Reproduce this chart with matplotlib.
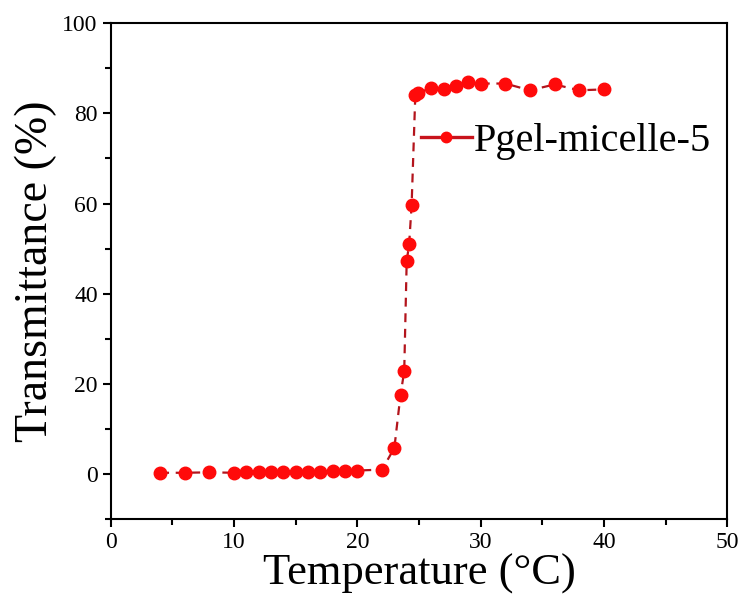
import numpy as np
import matplotlib
matplotlib.use("Agg")
import matplotlib.pyplot as plt
from matplotlib.ticker import MultipleLocator

temperature = [4, 6, 8, 10, 11, 12, 13, 14, 15, 16, 17, 18, 19, 20, 22, 23,
               23.5, 23.8, 24, 24.2, 24.4, 24.7, 24.9, 26, 27, 28, 29, 30,
               32, 34, 36, 38, 40]
transmittance = [0.3, 0.3, 0.4, 0.3, 0.4, 0.4, 0.4, 0.4, 0.4, 0.5, 0.5, 0.6, 0.6, 0.8,
                 1.0, 5.8, 17.6, 22.8, 47.2, 51.0, 59.7, 84.1, 84.5, 85.6, 85.5,
                 86.1, 86.9, 86.6, 86.6, 85.1, 86.4, 85.1, 85.3]
series_label = "Pgel-micelle-5"

plt.rcParams["font.family"] = ["Liberation Serif", "DejaVu Serif"]

fig = plt.figure(figsize=(7.39, 6.08), dpi=100)
ax = fig.add_axes([0.150, 0.146, 0.834, 0.816])

ax.plot(temperature, transmittance, color="#b3141c", lw=1.6, ls=(0, (4, 3)), zorder=1)
ax.plot(temperature, transmittance, "o", color="#ff0a0a", ms=9, zorder=2)

# legend shows solid line with marker
handle, = ax.plot([], [], "-", color="#c8141c", lw=2.4, marker="o",
                  mfc="#ff0a0a", mec="#ff0a0a", ms=7.5)
fig.legend([handle], [series_label], loc="center left",
           bbox_to_anchor=(0.570, 0.768), frameon=False, fontsize=29,
           handlelength=1.25, handletextpad=0.05, borderpad=0, borderaxespad=0)

ax.set_xlim(0, 50)
ax.set_ylim(-10, 100)
ax.xaxis.set_major_locator(MultipleLocator(10))
ax.xaxis.set_minor_locator(MultipleLocator(5))
ax.yaxis.set_major_locator(MultipleLocator(20))
ax.yaxis.set_minor_locator(MultipleLocator(10))

ax.tick_params(which="both", direction="out", labelsize=17, width=1.5)
ax.tick_params(which="major", length=6)
ax.tick_params(which="minor", length=4)
for s in ax.spines.values():
    s.set_linewidth(1.5)

ax.set_xlabel("Temperature (\u00b0C)", fontsize=32, labelpad=0)
ax.set_ylabel("Transmittance (%)", fontsize=33, labelpad=4)

fig.savefig("out.png", dpi=100)
